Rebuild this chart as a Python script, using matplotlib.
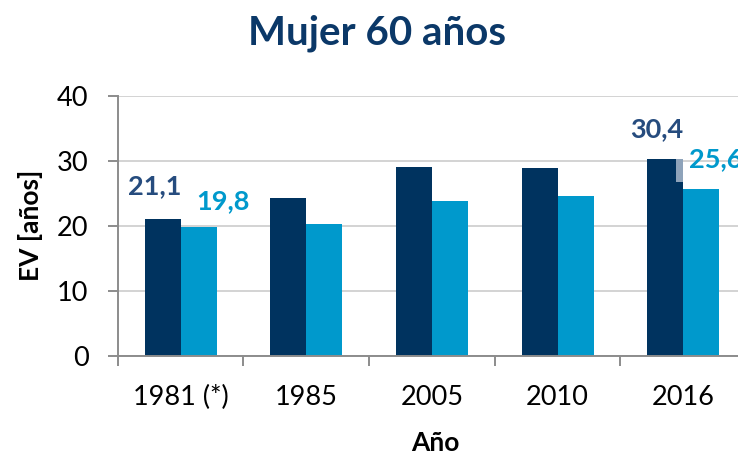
import numpy as np
import matplotlib
matplotlib.use("Agg")
import matplotlib.pyplot as plt
from matplotlib.patches import Rectangle

plt.rcParams['font.family'] = ['Lato', 'DejaVu Sans']

# data
years = ["1981 (*)", "1985", "2005", "2010", "2016"]
ev_dark = [21.1, 24.3, 29.0, 28.8, 30.3]
ev_light = [19.8, 20.3, 23.8, 24.6, 25.6]
labels_dark = {0: "21,1", 4: "30,4"}
labels_light = {0: "19,8", 4: "25,6"}

c_dark = "#00335f"
c_light = "#0099cc"
c_title = "#0b3868"
c_lab_dark = "#264c7e"

fig = plt.figure(figsize=(7.38, 4.55), dpi=100)
ax = fig.add_axes([0.1595, 0.2183, 0.8516, 0.5714])

x = np.arange(len(years))
w = 0.286
ax.bar(x - w/2, ev_dark, w, color=c_dark, zorder=3)
ax.bar(x + w/2, ev_light, w, color=c_light, zorder=3)

# data labels (offsets in points from bar top centre)
off_dark = {0: (-5.4, 17.8), 4: (-6.5, 15.8)}
off_light = {0: (17.6, 13.0), 4: (10.5, 16.3)}
for i, t in labels_dark.items():
    ax.annotate(t, (x[i] - w/2, ev_dark[i]), xytext=off_dark[i], textcoords='offset points',
                ha='center', va='baseline', fontsize=19.5, fontweight='bold', color=c_lab_dark,
                zorder=5, annotation_clip=False)
for i, t in labels_light.items():
    ax.annotate(t, (x[i] + w/2, ev_light[i]), xytext=off_light[i], textcoords='offset points',
                ha='center', va='baseline', fontsize=19.5, fontweight='bold', color=c_light,
                zorder=5, annotation_clip=False)

# leftover label box in the 2016 group
ax.add_patch(Rectangle((x[4] - 0.06, ev_dark[4] - 3.6), 0.06, 3.6,
                       color="#8ea3ba", zorder=4, lw=0))

ax.set_xlim(-0.5, 4.5)
ax.set_ylim(0, 40)
ax.set_yticks([0, 10, 20, 30, 40])
ax.set_xticks(x)
ax.set_xticklabels(years)
ax.set_xticks(np.arange(-0.5, 4.5, 1), minor=True)

ax.grid(axis='y', color="#c8c8c8", linewidth=1.1, zorder=0)
ax.set_axisbelow(True)
for s in ['top', 'right']:
    ax.spines[s].set_visible(False)
for s in ['left', 'bottom']:
    ax.spines[s].set_color("#8c8c8c")
    ax.spines[s].set_linewidth(1.4)
    ax.spines[s].set_zorder(4)

ax.tick_params(axis='y', length=7, width=1.4, color="#8c8c8c", pad=14, labelsize=19.5)
ax.tick_params(axis='x', which='major', length=0, pad=21, labelsize=19.5)
ax.tick_params(axis='x', which='minor', length=7, width=1.4, color="#8c8c8c")

ax.set_ylabel("EV [años]", fontsize=19, fontweight='bold', va='center')
ax.yaxis.set_label_coords(-0.1395, 0.5)
ax.set_xlabel("Año", fontsize=19, fontweight='bold', va='center')
ax.xaxis.set_label_coords(0.505, -0.336)

fig.text(0.511, 0.9026, "Mujer 60 años", ha='center', va='baseline',
         fontsize=29, fontweight='bold', color=c_title)

plt.savefig("out.png", dpi=100)
